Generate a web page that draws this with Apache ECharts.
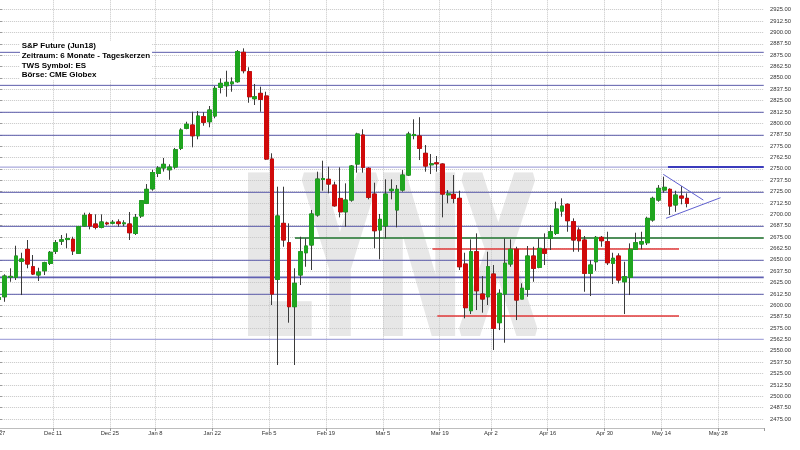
<!DOCTYPE html>
<html><head><meta charset="utf-8">
<script src="https://cdn.jsdelivr.net/npm/echarts@6/dist/echarts.min.js"></script>
<style>html,body{margin:0;padding:0;background:#fff}#c{width:800px;height:450px}</style>
</head><body><div id="c"></div>
<script>
// trading-day categories (plus future slots shown on the axis)
const categories = [
'2017-11-27','2017-11-28','2017-11-29','2017-11-30','2017-12-01',
'2017-12-04','2017-12-05','2017-12-06','2017-12-07','2017-12-08',
'2017-12-11','2017-12-12','2017-12-13','2017-12-14','2017-12-15',
'2017-12-18','2017-12-19','2017-12-20','2017-12-21','2017-12-22',
'2017-12-26','2017-12-27','2017-12-28','2017-12-29',
'2018-01-02','2018-01-03','2018-01-04','2018-01-05',
'2018-01-08','2018-01-09','2018-01-10','2018-01-11','2018-01-12',
'2018-01-15','2018-01-16','2018-01-17','2018-01-18','2018-01-19',
'2018-01-22','2018-01-23','2018-01-24','2018-01-25','2018-01-26',
'2018-01-29','2018-01-30','2018-01-31','2018-02-01','2018-02-02',
'2018-02-05','2018-02-06','2018-02-07','2018-02-08','2018-02-09',
'2018-02-12','2018-02-13','2018-02-14','2018-02-15','2018-02-16',
'2018-02-19','2018-02-20','2018-02-21','2018-02-22','2018-02-23',
'2018-02-26','2018-02-27','2018-02-28','2018-03-01','2018-03-02',
'2018-03-05','2018-03-06','2018-03-07','2018-03-08','2018-03-09',
'2018-03-12','2018-03-13','2018-03-14','2018-03-15','2018-03-16',
'2018-03-19','2018-03-20','2018-03-21','2018-03-22','2018-03-23',
'2018-03-26','2018-03-27','2018-03-28','2018-03-29',
'2018-04-02','2018-04-03','2018-04-04','2018-04-05','2018-04-06',
'2018-04-09','2018-04-10','2018-04-11','2018-04-12','2018-04-13',
'2018-04-16','2018-04-17','2018-04-18','2018-04-19','2018-04-20',
'2018-04-23','2018-04-24','2018-04-25','2018-04-26','2018-04-27',
'2018-04-30','2018-05-01','2018-05-02','2018-05-03','2018-05-04',
'2018-05-07','2018-05-08','2018-05-09','2018-05-10','2018-05-11',
'2018-05-14','2018-05-15','2018-05-16','2018-05-17','2018-05-18',
'2018-05-21','2018-05-22','2018-05-23','2018-05-24','2018-05-25',
'2018-05-28','2018-05-29','2018-05-30','2018-05-31','2018-06-01',
'2018-06-04','2018-06-05','2018-06-06'];

const tickDates  = ['2017-11-27','2017-12-11','2017-12-26','2018-01-08','2018-01-22','2018-02-05','2018-02-19','2018-03-05','2018-03-19','2018-04-02','2018-04-16','2018-04-30','2018-05-14','2018-05-28'];
const tickLabels = ['Nov 27','Dec 11','Dec 25','Jan 8','Jan 22','Feb 5','Feb 19','Mar 5','Mar 19','Apr 2','Apr 16','Apr 30','May 14','May 28'];

const openP = [2606.5,2609.4,2631.0,2630.8,2648.4,2661.5,2642.4,2633.3,2638.0,2646.1,
2659.4,2670.5,2672.3,2672.6,2657.2,2687.2,2699.6,2689.4,2685.7,2690.5,
2690.3,2691.6,2689.7,2689.4,2679.1,2698.2,2712.1,2728.0,2745.0,2751.0,
2749.0,2752.0,2772.6,2794.6,2798.2,2786.4,2807.3,2801.8,2808.1,2839.6,
2841.4,2843.5,2845.8,2878.1,2856.8,2827.1,2833.0,2830.1,2760.8,2628.6,
2690.1,2668.8,2598.5,2633.3,2657.8,2666.3,2699.3,2738.3,2738.5,2732.2,
2717.5,2702.8,2715.7,2755.3,2787.2,2750.6,2722.3,2682.8,2687.2,2726.0,
2704.8,2726.7,2743.2,2786.6,2786.1,2767.1,2754.5,2756.6,2755.3,2721.5,
2722.0,2717.6,2645.4,2594.1,2658.9,2612.4,2609.4,2634.4,2580.9,2612.4,
2645.4,2661.6,2606.9,2617.6,2654.2,2641.8,2661.6,2673.6,2679.1,2703.6,
2711.0,2691.9,2682.8,2671.8,2635.2,2647.9,2674.7,2669.9,2646.2,2654.2,
2625.9,2630.8,2661.6,2667.4,2668.8,2693.8,2715.7,2726.7,2727.5,2710.3,
2720.1,2717.6];
const closeP = [2608.5,2632.2,2631.8,2654.2,2650.9,2645.4,2634.4,2636.6,2646.8,2658.3,
2668.8,2672.0,2673.5,2659.7,2686.4,2698.9,2687.2,2685.7,2691.6,2689.6,
2691.3,2689.8,2690.6,2679.8,2696.7,2715.0,2727.5,2746.0,2751.0,2755.0,
2752.0,2771.0,2792.7,2799.0,2786.4,2808.1,2801.2,2814.7,2838.5,2844.0,
2845.1,2845.5,2878.8,2857.9,2829.3,2829.3,2826.4,2760.8,2612.4,2698.2,
2671.8,2598.5,2624.2,2658.9,2665.2,2700.4,2738.8,2739.3,2733.3,2709.4,
2702.8,2715.7,2753.1,2788.3,2751.7,2718.7,2682.0,2694.5,2722.3,2727.5,
2727.5,2743.2,2788.3,2787.8,2772.6,2753.1,2755.5,2755.6,2722.3,2722.5,
2717.6,2642.4,2597.4,2658.9,2616.0,2606.9,2642.4,2574.7,2613.2,2646.2,
2661.6,2605.8,2618.7,2654.2,2640.7,2662.6,2657.2,2680.9,2705.8,2709.1,
2693.0,2671.8,2671.0,2635.2,2644.3,2674.7,2671.0,2646.8,2651.7,2627.8,
2631.4,2661.6,2668.8,2669.9,2695.6,2717.6,2728.6,2729.7,2709.1,2721.2,
2717.9,2712.1];
const lowP = [2604.0,2603.9,2625.9,2627.8,2611.3,2640.7,2633.3,2626.7,2633.3,2644.3,
2656.4,2666.3,2662.7,2655.3,2656.4,2686.4,2683.5,2683.5,2684.6,2688.0,
2688.9,2686.4,2686.9,2671.8,2677.3,2696.0,2711.3,2726.0,2741.0,2747.0,
2738.0,2750.0,2770.7,2793.5,2773.7,2782.5,2797.4,2795.7,2805.6,2833.0,
2829.3,2834.8,2844.7,2855.0,2822.7,2820.2,2812.8,2759.7,2600.3,2534.4,
2664.4,2580.9,2534.4,2622.3,2642.4,2638.8,2697.4,2726.0,2723.1,2708.4,
2696.7,2686.4,2713.9,2745.8,2745.8,2716.5,2662.7,2650.6,2673.6,2716.5,
2685.7,2724.9,2742.1,2782.5,2759.7,2746.9,2744.3,2746.9,2696.7,2712.1,
2712.1,2638.8,2585.7,2590.4,2594.8,2591.9,2600.3,2550.9,2572.8,2558.9,
2642.4,2583.8,2606.9,2609.4,2625.9,2640.7,2644.3,2660.8,2677.3,2697.4,
2680.9,2658.9,2658.9,2614.9,2610.2,2638.0,2664.4,2644.3,2623.4,2624.2,
2590.4,2611.3,2660.8,2661.6,2666.3,2691.9,2713.9,2723.8,2699.3,2702.8,
2711.0,2707.7];
const highP = [2611.0,2634.1,2640.7,2665.5,2657.8,2671.8,2655.3,2641.3,2647.9,2659.7,
2671.8,2677.3,2679.1,2675.4,2687.2,2701.8,2701.8,2700.0,2700.0,2692.0,
2693.8,2694.5,2693.5,2702.6,2700.4,2715.7,2733.3,2749.0,2753.0,2762.0,
2755.0,2773.0,2794.6,2801.8,2812.8,2813.6,2812.3,2819.1,2841.1,2849.5,
2857.9,2850.6,2880.6,2882.5,2861.7,2843.3,2840.3,2834.8,2767.1,2730.4,
2730.4,2690.1,2640.7,2675.4,2673.6,2704.8,2746.9,2759.0,2752.4,2735.9,
2751.7,2734.1,2754.2,2789.7,2793.5,2751.7,2734.8,2700.4,2738.5,2738.5,
2732.2,2748.7,2790.8,2804.5,2806.8,2776.2,2766.3,2764.1,2756.1,2726.7,
2743.2,2726.0,2657.8,2672.5,2679.1,2632.2,2658.9,2644.3,2617.6,2673.6,
2672.5,2664.4,2624.2,2665.2,2664.4,2673.6,2679.1,2688.3,2713.9,2717.6,
2712.1,2695.6,2685.7,2676.2,2649.8,2676.2,2676.2,2680.9,2657.8,2657.2,
2647.9,2668.1,2679.8,2680.9,2697.4,2719.4,2732.2,2741.4,2728.6,2726.0,
2731.1,2723.1];

// drawn horizontal levels (price) — full width
const blueLevels  = [2878.1, 2841.8, 2812.2, 2786.9, 2724.2, 2686.8, 2649.5, 2612.1];
const blueBoldLevels = [2630.8];
const lightLevels = [2752.0, 2562.5];
// partial segments: level, from bar position, to bar position
const greenLevel = 2674.0, greenFrom = 52.06;
const redLevels = [2662.0, 2588.2], redFrom = [76.24, 77.09], redTo = [119.6, 119.6];
const resistLevel = 2752.0, resistFrom = 117.66;
// triangle (bar position, price)
const triUpper = [[116.83, 2744.0], [123.87, 2715.7]];
const triLower = [[117.31, 2695.6], [126.9, 2718.3]];

const yMin = 2462.5, yMax = 2937.5, yStep = 12.5;

const UP = '#1fa51f', DOWN = '#d00a0a', WICK = '#3a3a3a';
const N = categories.length;
const xMinV = -0.5, xMaxV = N - 0.5;
const gridLeft = -3.86, bandW = 5.686;
const gridW = bandW * N;

const ohlc = openP.map((o, i) => [o, closeP[i], lowP[i], highP[i]]);
const bodies = openP.map((o, i) => [o, closeP[i], Math.min(o, closeP[i]), Math.max(o, closeP[i])]);

const tickSet = new Set(tickDates);
const isTick = (idx, val) => tickSet.has(val);
const labelFor = v => { const k = tickDates.indexOf(v); return k >= 0 ? tickLabels[k] : ''; };

function seg(points, color, width, z) {
  return { type: 'line', xAxisIndex: 1, yAxisIndex: 0, data: points, symbol: 'none',
    silent: true, animation: false, z: z || 3, lineStyle: { color: color, width: width } };
}
const lineSeries = [];
blueLevels.forEach(v => lineSeries.push(seg([[xMinV, v], [xMaxV, v]], '#5c5cab', 1)));
blueBoldLevels.forEach(v => lineSeries.push(seg([[xMinV, v], [xMaxV, v]], '#6060b2', 1.8)));
lightLevels.forEach(v => lineSeries.push(seg([[xMinV, v], [xMaxV, v]], '#a9a9dc', 1.2)));
lineSeries.push(seg([[greenFrom, greenLevel], [xMaxV, greenLevel]], '#4f8f5a', 2));
redLevels.forEach((v, k) => lineSeries.push(seg([[redFrom[k], v], [redTo[k], v]], '#e23a3a', 1.5)));
lineSeries.push(seg([[resistFrom, resistLevel], [xMaxV, resistLevel]], '#3c3cbc', 2, 4));
lineSeries.push(seg(triUpper, '#6060d0', 1, 7));
lineSeries.push(seg(triLower, '#6060d0', 1, 7));

const chart = echarts.init(document.getElementById('c'), null, { renderer: 'canvas' });
chart.setOption({
  animation: false,
  backgroundColor: '#ffffff',
  textStyle: { fontFamily: 'Liberation Sans' },
  title: {
    text: 'S&P Future (Jun18)\nZeitraum: 6 Monate - Tageskerzen\nTWS Symbol: ES\nBörse: CME Globex',
    left: 20, top: 40.8, padding: [0, 2, 0, 1.7], backgroundColor: '#ffffff', z: 10,
    textStyle: { fontSize: 8, fontWeight: 'bold', lineHeight: 9.85, color: '#000', fontFamily: 'Liberation Sans' }
  },
  graphic: [{
    type: 'text', x: 243, y: 270, scaleX: 0.513, z: -1, silent: true,
    style: { text: 'LYNX', font: 'bold 222px "Liberation Sans"', fill: '#e7e7e7', stroke: '#e7e7e7', lineWidth: 10,
      verticalAlign: 'middle', align: 'left' }
  }],
  grid: { left: gridLeft, top: -1.7, width: gridW, bottom: 19.6, containLabel: false, outerBoundsMode: 'none' },
  xAxis: [{
    type: 'category', data: categories, boundaryGap: true, offset: -2.4,
    axisLine: { show: true, lineStyle: { color: '#bdbdbd' } },
    axisTick: { show: true, interval: isTick, length: 3, lineStyle: { color: '#9a9a9a' } },
    axisLabel: { interval: isTick, formatter: labelFor, fontSize: 5.8, color: '#333', margin: 2.5,
      padding: [0, bandW, 0, 0], fontFamily: 'Liberation Sans' },
    splitLine: { show: true, interval: isTick, showMaxLine: false, lineStyle: { color: '#c6c6c6', type: [1, 1] } }
  }, {
    type: 'value', min: xMinV, max: xMaxV, show: false
  }],
  yAxis: [{
    type: 'value', position: 'right', min: yMin, max: yMax, interval: yStep, offset: 2.25,
    axisLine: { show: true, lineStyle: { color: '#bdbdbd' } },
    axisTick: { show: true, length: 3, lineStyle: { color: '#9a9a9a' } },
    axisLabel: { formatter: v => v < 2470 ? '' : v.toFixed(2), fontSize: 5.8, color: '#333', margin: 4, fontFamily: 'Liberation Sans' },
    splitLine: { show: true, showMinLine: false, lineStyle: { color: '#c6c6c6', type: [1, 1] } }
  }],
  series: lineSeries.concat([{
    type: 'candlestick', data: ohlc, barWidth: '75%', z: 5, silent: true,
    itemStyle: { color: UP, color0: DOWN, borderColor: WICK, borderColor0: WICK, borderWidth: 1 }
  }, {
    type: 'candlestick', data: bodies, barWidth: '75%', z: 6, silent: true,
    itemStyle: { color: UP, color0: DOWN, borderColor: UP, borderColor0: DOWN, borderWidth: 1 }
  }])
});
</script></body></html>
